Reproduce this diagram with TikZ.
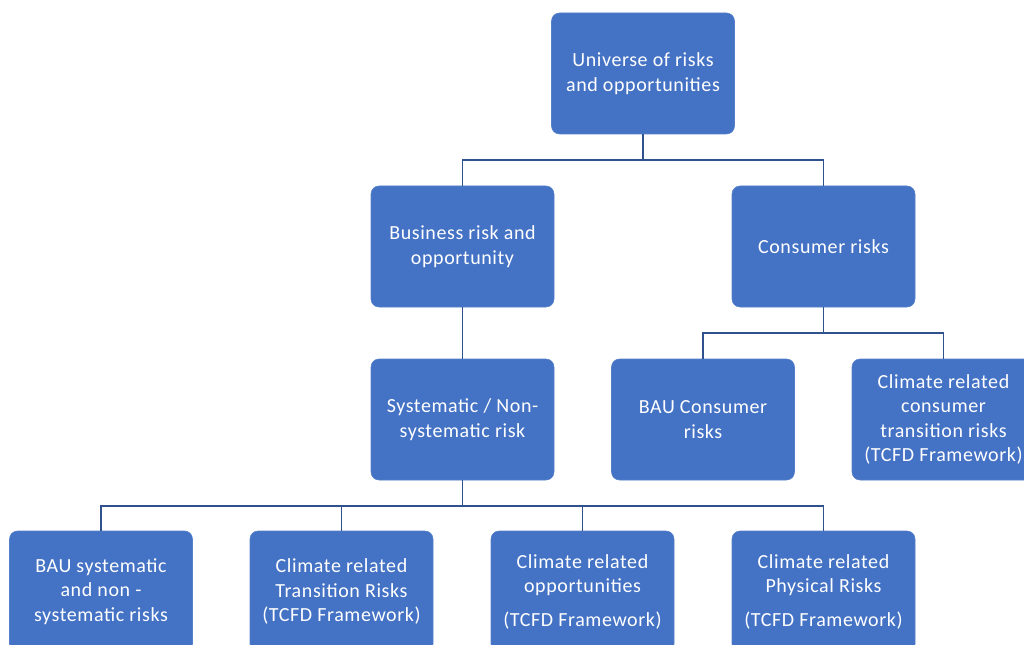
\documentclass[tikz,border=0pt]{standalone}
\usepackage{fontspec}
\setmainfont{Carlito}[LetterSpace=3]
\definecolor{boxblue}{HTML}{4472C4}
\definecolor{linkblue}{HTML}{2F528F}
\begin{document}
\begin{tikzpicture}[x=0.75pt,y=-0.75pt,
  box/.style={fill=boxblue,draw=boxblue!90!white,rounded corners=6pt,
    minimum width=137.25pt,minimum height=90.75pt,text=white,align=center,
    inner sep=2pt,font=\fontsize{15pt}{18.4pt}\selectfont},
  link/.style={draw=linkblue,line width=1.2pt}]
\useasboundingbox (0,0) rectangle (1024,645);
\begin{scope}
\clip (0,0) rectangle (1024,645);
\node[box] (top) at (643,73.5) {Universe of risks\\and opportunities};
\node[box] (bus) at (462.5,246.5) {Business risk and\\opportunity};
\node[box] (con) at (823.5,246.5) {Consumer risks};
\node[box] (sys) at (462.5,419.5) {Systematic / Non-\\systematic risk};
\node[box] (bauc) at (703,419.5) {BAU Consumer\\risks};
\node[box] (ccr) at (943.5,419.5) {Climate related\\consumer\\transition risks\\(TCFD Framework)};
\node[box] (baus) at (101,591.5) {BAU systematic\\and non -\\systematic risks};
\node[box] (ctr) at (341.5,591.5) {Climate related\\Transition Risks\\(TCFD Framework)};
\node[box] (cop) at (582.5,591.5) {Climate related\\opportunities\\[6.75pt](TCFD Framework)};
\node[box] (cpr) at (823.5,591.5) {Climate related\\Physical Risks\\[6.75pt](TCFD Framework)};
\end{scope}
\coordinate (j1) at (643,160);
\coordinate (j2) at (823.5,333);
\coordinate (j3) at (462.5,506);
\draw[link] (top.south) -- (j1);
\draw[link] (j1) -| (bus.north);
\draw[link] (j1) -| (con.north);
\draw[link] (bus.south) -- (sys.north);
\draw[link] (con.south) -- (j2);
\draw[link] (j2) -| (bauc.north);
\draw[link] (j2) -| (ccr.north);
\draw[link] (sys.south) -- (j3);
\draw[link] (j3) -| (baus.north);
\draw[link] (j3) -| (ctr.north);
\draw[link] (j3) -| (cop.north);
\draw[link] (j3) -| (cpr.north);
\end{tikzpicture}
\end{document}
